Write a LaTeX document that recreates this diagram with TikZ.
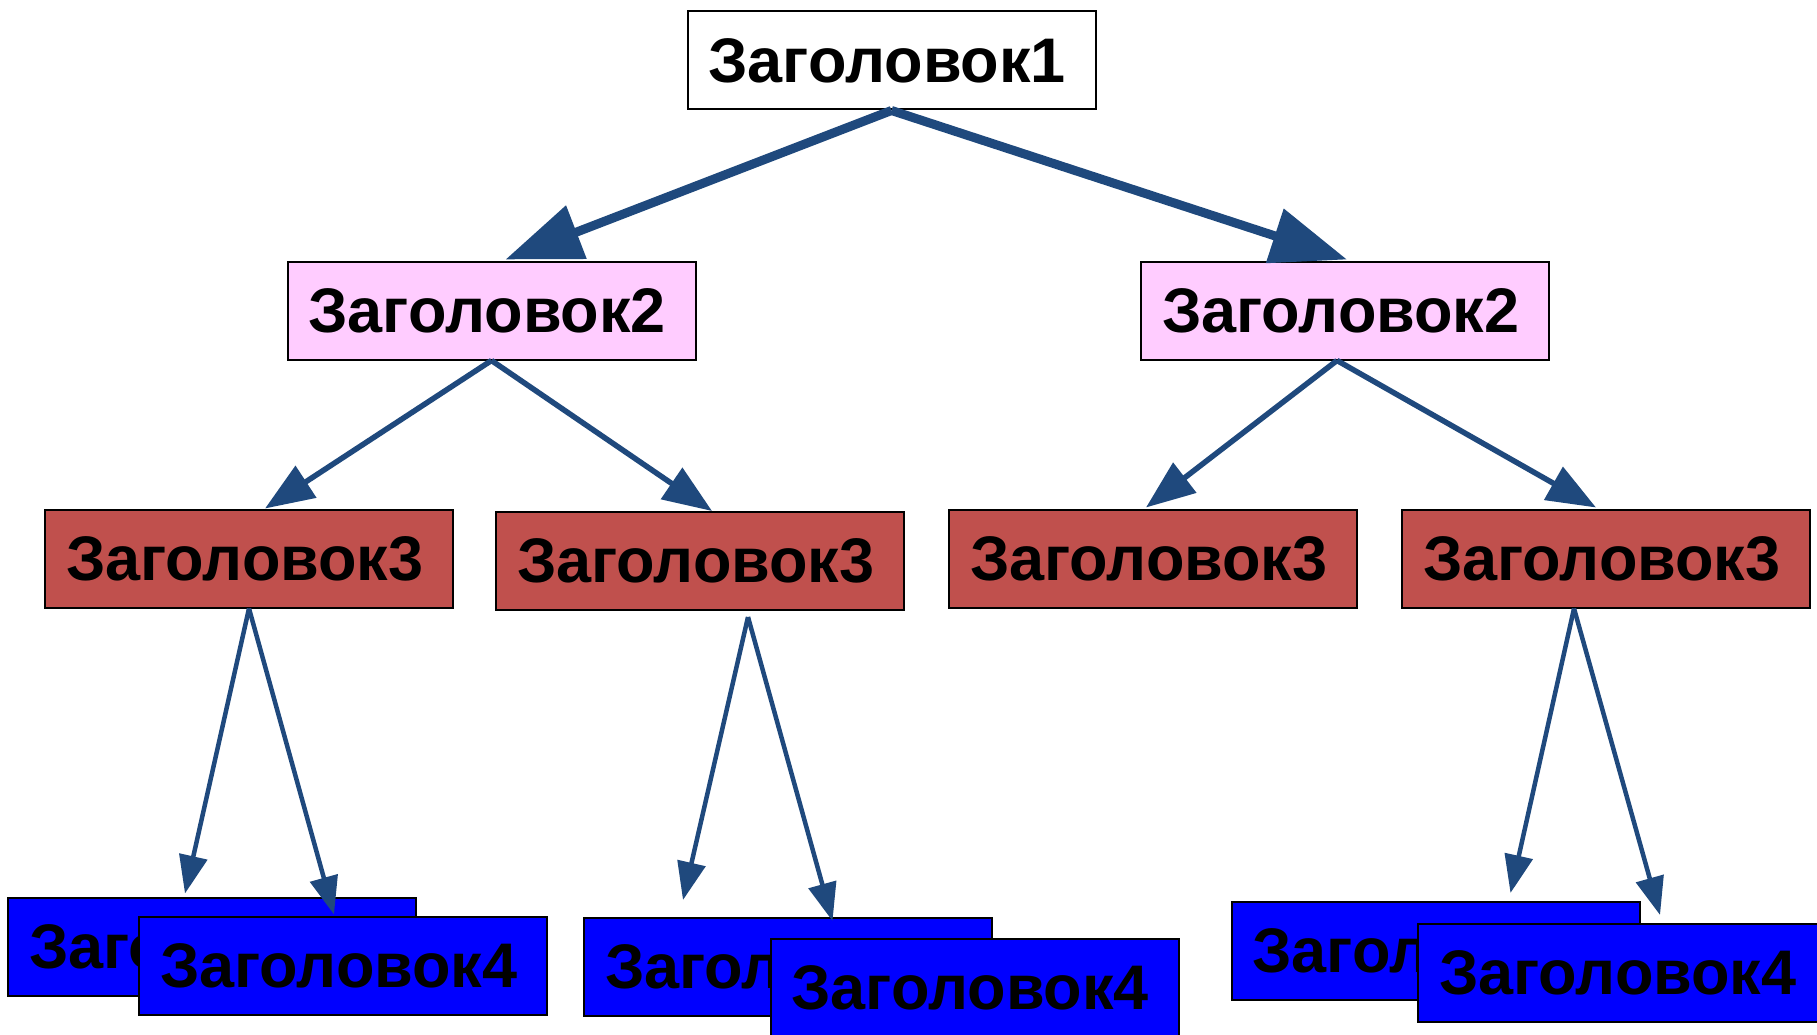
\documentclass[tikz,border=0pt]{standalone}
\usepackage{fontspec}
\setmainfont{Liberation Sans}
\usetikzlibrary{arrows.meta,calc}
\definecolor{arr}{RGB}{31,73,125}
\definecolor{pinkf}{RGB}{255,204,255}
\definecolor{redf}{RGB}{192,80,77}
\definecolor{bluef}{RGB}{0,0,255}
\begin{document}
\begin{tikzpicture}[x=1pt,y=1pt,
  box/.style={draw=black,line width=2pt,minimum height=98pt,text width=366pt,align=left,
    inner xsep=21pt,inner ysep=0pt,text=black,font=\fontsize{63}{70}\selectfont\bfseries},
  lvA/.style={box,fill=white},
  lvB/.style={box,fill=pinkf},
  lvC/.style={box,fill=redf},
  lvD/.style={box,fill=bluef},
  arA/.style={draw=arr,line width=9pt,-{Triangle[length=76pt,width=55pt]}},
  arB/.style={draw=arr,line width=5.5pt,-{Triangle[length=49pt,width=37pt]}},
  arC/.style={draw=arr,line width=4.5pt,-{Triangle[length=38pt,width=28pt]}}
]
\useasboundingbox[fill=white] (0,0) rectangle (1817,-1035);

\node[lvA] (t1) at (891.5,-60.5) {Заголовок1};
\node[lvB] (t2a) at (491.5,-310.5) {Заголовок2};
\node[lvB] (t2b) at (1345,-310.5) {Заголовок2};
\node[lvC] (t3a) at (249,-558.5) {Заголовок3};
\node[lvC] (t3b) at (700,-561) {Заголовок3};
\node[lvC] (t3c) at (1153,-558.5) {Заголовок3};
\node[lvC] (t3d) at (1606,-558.5) {Заголовок3};
\node[lvD] (t4a) at (212,-946.5) {Заголовок4};
\node[lvD] (t4b) at (343,-965.5) {Заголовок4};
\node[lvD] (t4c) at (788,-967) {Заголовок4};
\node[lvD] (t4d) at (974.5,-988) {Заголовок4};
\node[lvD] (t4e) at (1435.5,-951) {Заголовок4};
\node[lvD] (t4f) at (1622,-973) {Заголовок4};

\draw[arA] (t1.south) -- ($(t2a.north)+(14,1)$);
\draw[arA] (t1.south) -- ($(t2b.north)+(2,1)$);
\draw[arB] (t2a.south) -- ($(t3a.north)+(16,0)$);
\draw[arB] (t2a.south) -- ($(t3b.north)+(12,0)$);
\draw[arB] ($(t2b.south)+(-8,0)$) -- ($(t3c.north)+(-7,1)$);
\draw[arB] ($(t2b.south)+(-8,0)$) -- ($(t3d.north)+(-10,1)$);
\draw[arC] (t3a.south) -- ($(t4a.north)+(-27,3)$);
\draw[arC] (t3a.south) -- ($(t4b.north)+(-9,1)$);
\draw[arC] ($(t3b.south)+(48,-6)$) -- ($(t4c.north)+(-105,17)$);
\draw[arC] ($(t3b.south)+(48,-6)$) -- ($(t4d.north)+(-142,17)$);
\draw[arC] ($(t3d.south)+(-32,0)$) -- ($(t4e.north)+(75,8)$);
\draw[arC] ($(t3d.south)+(-32,0)$) -- ($(t4f.north)+(38,8)$);
\end{tikzpicture}
\end{document}
